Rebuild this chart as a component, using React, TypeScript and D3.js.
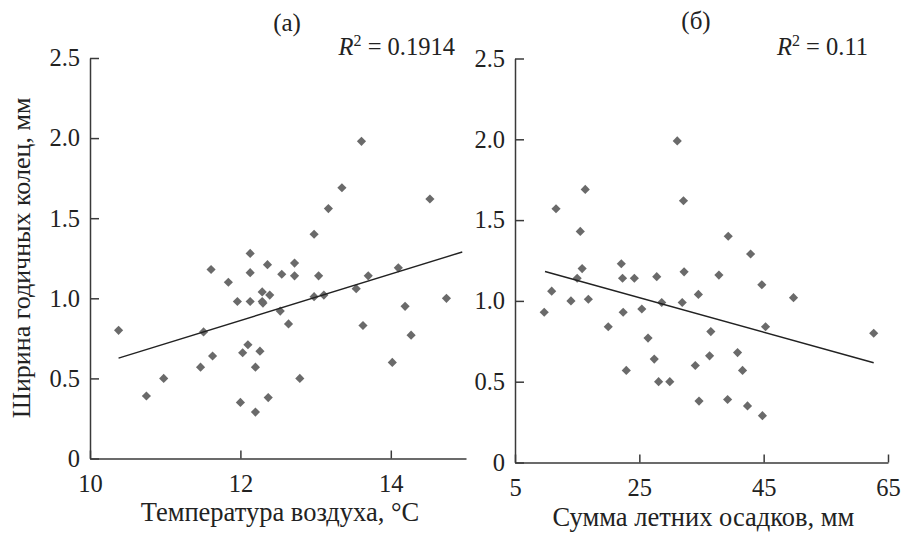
import React, { useEffect, useRef } from "react";
import * as d3 from "d3";

// (а) air temperature vs ring width
const tempA = [
  10.38, 10.75, 10.98, 11.47, 11.51, 11.61, 11.63, 11.84, 11.96, 12.0, 12.03,
  12.1, 12.13, 12.13, 12.13, 12.2, 12.2, 12.26, 12.29, 12.29, 12.3, 12.36,
  12.37, 12.39, 12.53, 12.55, 12.64, 12.72, 12.72, 12.79, 12.98, 12.98, 13.04,
  13.11, 13.17, 13.35, 13.54, 13.61, 13.63, 13.7, 14.02, 14.1, 14.19, 14.27,
  14.52, 14.74,
];
const ringA = [
  0.8, 0.39, 0.5, 0.57, 0.79, 1.18, 0.64, 1.1, 0.98, 0.35, 0.66, 0.71, 1.28,
  1.16, 0.98, 0.57, 0.29, 0.67, 1.04, 0.98, 0.97, 1.21, 0.38, 1.02, 0.92, 1.15,
  0.84, 1.22, 1.14, 0.5, 1.4, 1.01, 1.14, 1.02, 1.56, 1.69, 1.06, 1.98, 0.83,
  1.14, 0.6, 1.19, 0.95, 0.77, 1.62, 1.0,
];
const trendAx = [10.38, 14.95];
const trendAy = [0.627, 1.289];

// (б) summer precipitation vs ring width
const precipB = [
  31.1, 16.3, 11.6, 32.1, 15.5, 15.8, 22.1, 15.0, 22.3, 24.2, 27.8, 32.2, 37.8,
  10.9, 14.0, 16.8, 9.7, 22.4, 25.4, 28.6, 31.9, 34.5, 20.0, 26.4, 36.5, 27.4,
  36.3, 34.0, 22.9, 28.1, 29.9, 34.6, 42.9, 44.7, 49.8, 45.3, 62.7, 40.8, 41.6,
  39.2, 42.4, 44.8, 39.3,
];
const ringB = [
  1.99, 1.69, 1.57, 1.62, 1.43, 1.2, 1.23, 1.14, 1.14, 1.14, 1.15, 1.18, 1.16,
  1.06, 1.0, 1.01, 0.93, 0.93, 0.95, 0.99, 0.99, 1.04, 0.84, 0.77, 0.81, 0.64,
  0.66, 0.6, 0.57, 0.5, 0.5, 0.38, 1.29, 1.1, 1.02, 0.84, 0.8, 0.68, 0.57, 0.39,
  0.35, 0.29, 1.4,
];
const trendBx = [9.83, 62.7];
const trendBy = [1.182, 0.617];

const yTicks = [0, 0.5, 1.0, 1.5, 2.0, 2.5];
const xTicksA = [10, 12, 14];
const xTicksB = [5, 25, 45, 65];

const FONT = "'Liberation Serif', 'Times New Roman', serif";

export default function App() {
  const ref = useRef<SVGSVGElement>(null);

  useEffect(() => {
    const svg = d3.select(ref.current);
    svg.selectAll("*").remove();

    const panels = [
      {
        xs: tempA, ys: ringA, tx: trendAx, ty: trendAy,
        xDomain: [10, 15], xRange: [90, 466], yRange: [458.5, 58],
        xTicks: xTicksA, tag: "(а)", tagX: 287, tagY: 31,
        r2: "0.1914", r2X: 455, r2Y: 55,
        title: "Температура воздуха, °C", titleY: 521,
      },
      {
        xs: precipB, ys: ringB, tx: trendBx, ty: trendBy,
        xDomain: [5, 65], xRange: [515, 888], yRange: [462.5, 58.5],
        xTicks: xTicksB, tag: "(б)", tagX: 696, tagY: 29,
        r2: "0.11", r2X: 868, r2Y: 55,
        title: "Сумма летних осадков, мм", titleY: 526,
      },
    ];

    panels.forEach((p) => {
      const x = d3.scaleLinear().domain(p.xDomain).range(p.xRange);
      const y = d3.scaleLinear().domain([0, 2.5]).range(p.yRange);
      const g = svg.append("g");

      const yAxis = g
        .append("g")
        .attr("transform", `translate(${p.xRange[0]},0)`)
        .call(
          d3
            .axisLeft(y)
            .tickValues(yTicks)
            .tickFormat((d: any) => (d === 0 ? "0" : d3.format(".1f")(d)))
            .tickSize(-9)
            .tickSizeOuter(0)
            .tickPadding(10)
        );

      const xAxis = g
        .append("g")
        .attr("transform", `translate(0,${p.yRange[0]})`)
        .call(
          d3
            .axisBottom(x)
            .tickValues(p.xTicks)
            .tickFormat((d: any) => String(d))
            .tickSize(-8)
            .tickSizeOuter(0)
            .tickPadding(16)
        );

      [yAxis, xAxis].forEach((a) => {
        a.attr("font-family", FONT).attr("font-size", 24.5);
        a.select(".domain").attr("stroke", "#3a3a3a").attr("stroke-width", 1.5);
        a.selectAll(".tick line").attr("stroke", "#3a3a3a").attr("stroke-width", 1.5);
        a.selectAll(".tick text").attr("fill", "#222");
      });

      g.append("g")
        .selectAll("path")
        .data(d3.range(p.xs.length))
        .join("path")
        .attr("d", d3.symbol(d3.symbolSquare, 42)())
        .attr("transform", (i) => `translate(${x(p.xs[i])},${y(p.ys[i])}) rotate(45)`)
        .attr("fill", "#6a6a6a");

      g.append("path")
        .datum(d3.range(p.tx.length))
        .attr("d", d3.line<number>().x((i) => x(p.tx[i])).y((i) => y(p.ty[i])))
        .attr("fill", "none")
        .attr("stroke", "#222")
        .attr("stroke-width", 1.4);

      g.append("text")
        .attr("x", p.tagX)
        .attr("y", p.tagY)
        .attr("text-anchor", "middle")
        .attr("font-family", FONT)
        .attr("font-size", 25)
        .attr("fill", "#222")
        .text(p.tag);

      const r2 = g
        .append("text")
        .attr("x", p.r2X)
        .attr("y", p.r2Y)
        .attr("text-anchor", "end")
        .attr("font-family", FONT)
        .attr("font-size", 24.5)
        .attr("fill", "#222");
      r2.append("tspan").attr("font-style", "italic").text("R");
      r2.append("tspan").attr("font-size", 16).attr("dy", -9).text("2");
      r2.append("tspan").attr("dy", 9).text(" = " + p.r2);

      g.append("text")
        .attr("x", (p.xRange[0] + p.xRange[1]) / 2 + 2)
        .attr("y", p.titleY)
        .attr("text-anchor", "middle")
        .attr("font-family", FONT)
        .attr("font-size", 26.5)
        .attr("fill", "#222")
        .text(p.title);
    });

    svg
      .append("text")
      .attr("transform", "translate(30,258) rotate(-90)")
      .attr("text-anchor", "middle")
      .attr("font-family", FONT)
      .attr("font-size", 26)
      .attr("fill", "#222")
      .text("Ширина годичных колец, мм");
  }, []);

  return (
    <svg
      ref={ref}
      width={904}
      height={535}
      style={{ position: "absolute", left: 0, top: 0, background: "#fff" }}
    />
  );
}
